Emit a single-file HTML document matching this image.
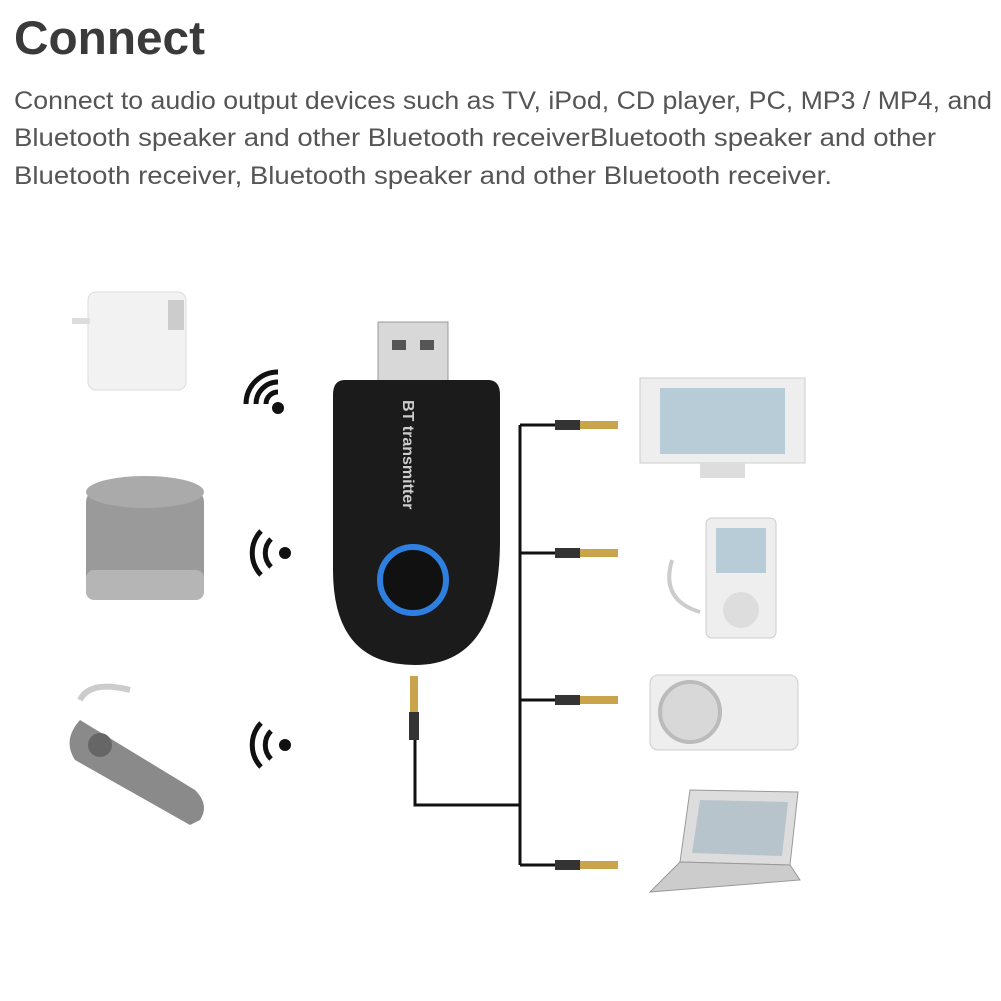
<!DOCTYPE html>
<html><head><meta charset="utf-8"><style>
body{margin:0;width:1001px;height:1001px;background:#fff;overflow:hidden;font-family:"Liberation Sans",sans-serif;}
svg{position:absolute;left:0;top:0;}
</style></head><body>
<svg width="1001" height="1001">
<text x="14" y="54" font-size="47" font-weight="bold" fill="#3a3a3a" textLength="191" lengthAdjust="spacingAndGlyphs">Connect</text>
<g font-size="25" fill="#555">
<text x="14" y="109" textLength="978" lengthAdjust="spacingAndGlyphs">Connect to audio output devices such as TV, iPod, CD player, PC, MP3 / MP4, and</text>
<text x="14" y="146" textLength="922" lengthAdjust="spacingAndGlyphs">Bluetooth speaker and other Bluetooth receiverBluetooth speaker and other</text>
<text x="14" y="184" textLength="818" lengthAdjust="spacingAndGlyphs">Bluetooth receiver, Bluetooth speaker and other Bluetooth receiver.</text>
</g>
<!-- charger -->
<rect x="88" y="292" width="98" height="98" rx="8" fill="#f2f2f2" stroke="#ddd"/>
<rect x="72" y="318" width="18" height="6" fill="#ddd"/>
<rect x="168" y="300" width="16" height="30" fill="#ccc"/>
<!-- speaker -->
<rect x="86" y="490" width="118" height="110" rx="12" fill="#9a9a9a"/>
<ellipse cx="145" cy="492" rx="59" ry="16" fill="#aaa"/>
<rect x="86" y="570" width="118" height="30" rx="8" fill="#b5b5b5"/>
<!-- headset -->
<path d="M80 720 L195 790 Q210 805 200 820 L190 825 L75 760 Q62 740 80 720Z" fill="#8a8a8a"/>
<circle cx="100" cy="745" r="12" fill="#666"/>
<path d="M80 700 Q90 680 130 690" stroke="#ccc" stroke-width="6" fill="none"/>
<!-- wifi icons -->
<g fill="none" stroke="#111" stroke-width="5">
<g transform="translate(278,408)"><path d="M-12 -4 A12 12 0 0 1 0 -16"/><path d="M-22 -4 A22 22 0 0 1 0 -26"/><path d="M-32 -4 A32 32 0 0 1 0 -36"/></g>
<g transform="translate(285,553)"><path d="M-14 -14 A20 20 0 0 0 -14 14"/><path d="M-24 -22 A32 32 0 0 0 -24 22"/></g>
<g transform="translate(285,745)"><path d="M-14 -14 A20 20 0 0 0 -14 14"/><path d="M-24 -22 A32 32 0 0 0 -24 22"/></g>
</g>
<circle cx="278" cy="408" r="6" fill="#111"/><circle cx="285" cy="553" r="6" fill="#111"/><circle cx="285" cy="745" r="6" fill="#111"/>
<!-- usb -->
<rect x="378" y="322" width="70" height="68" fill="#d8d8d8" stroke="#999"/>
<rect x="392" y="340" width="14" height="10" fill="#555"/><rect x="420" y="340" width="14" height="10" fill="#555"/>
<!-- dongle -->
<path d="M345 380 L488 380 Q500 380 500 395 L500 540 Q500 665 415 665 Q333 665 333 570 L333 395 Q333 380 345 380Z" fill="#1b1b1b"/>
<text x="403" y="400" transform="rotate(90 403 400)" fill="#ccc" font-size="16" font-weight="bold">BT transmitter</text>
<circle cx="413" cy="580" r="33" fill="#111" stroke="#2f7fe0" stroke-width="6"/>
<!-- wires -->
<g stroke="#111" stroke-width="3" fill="none">
<path d="M520 425 V865"/>
<path d="M520 425 H560 M520 553 H560 M520 700 H560 M520 865 H560"/>
<path d="M415 740 V805 H520"/>
</g>
<g>
<rect x="555" y="420" width="25" height="10" fill="#333"/><rect x="580" y="421" width="38" height="8" fill="#c9a44a"/>
<rect x="555" y="548" width="25" height="10" fill="#333"/><rect x="580" y="549" width="38" height="8" fill="#c9a44a"/>
<rect x="555" y="695" width="25" height="10" fill="#333"/><rect x="580" y="696" width="38" height="8" fill="#c9a44a"/>
<rect x="555" y="860" width="25" height="10" fill="#333"/><rect x="580" y="861" width="38" height="8" fill="#c9a44a"/>
<rect x="410" y="676" width="8" height="38" fill="#c9a44a"/><rect x="409" y="712" width="10" height="28" fill="#333"/>
</g>
<!-- TV -->
<rect x="640" y="378" width="165" height="85" fill="#eee" stroke="#ccc"/>
<rect x="660" y="388" width="125" height="66" fill="#b8ccd8"/>
<rect x="700" y="463" width="45" height="15" fill="#ddd"/>
<!-- mp3 -->
<rect x="706" y="518" width="70" height="120" rx="6" fill="#eee" stroke="#ccc"/>
<rect x="716" y="528" width="50" height="45" fill="#b8ccd8"/>
<circle cx="741" cy="610" r="18" fill="#ddd"/>
<path d="M672 560 Q660 600 700 612" stroke="#ccc" stroke-width="4" fill="none"/>
<!-- projector -->
<rect x="650" y="675" width="148" height="75" rx="8" fill="#eee" stroke="#ccc"/>
<circle cx="690" cy="712" r="30" fill="#d8d8d8" stroke="#bbb" stroke-width="4"/>
<!-- laptop -->
<path d="M690 790 L798 792 L790 865 L680 862Z" fill="#ddd" stroke="#999"/>
<path d="M700 800 L788 802 L782 856 L692 853Z" fill="#b8c4cc"/>
<path d="M680 862 L790 865 L800 880 L650 892 Z" fill="#ccc" stroke="#999"/>
</svg>
</body></html>
